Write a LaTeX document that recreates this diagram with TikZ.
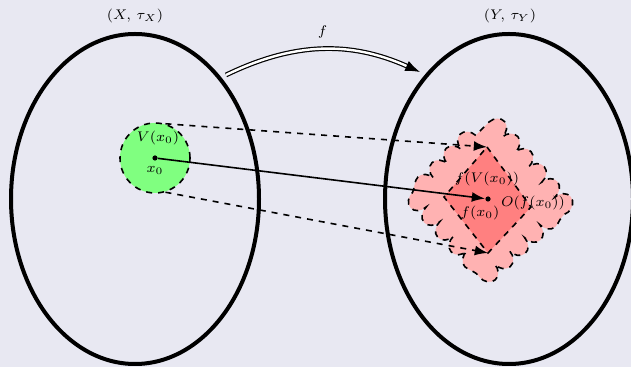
\documentclass[tikz,border=0pt]{standalone}
\usepackage{amsmath,amssymb,xcolor,tikz}
\usetikzlibrary{arrows.meta,shapes.geometric,decorations.pathmorphing}
\definecolor{bgcol}{RGB}{232,232,242}

\begin{document}
\begin{tikzpicture}[x=0.5pt,y=-0.5pt,font=\scriptsize,
  space/.style={draw,line width=2pt,ellipse,inner sep=0pt,minimum width=124pt,minimum height=165pt},
  nbhd/.style={draw,thick,dashed},
  dot/.style={circle,fill,inner sep=0pt,minimum size=2.6pt}]
\fill[bgcol] (0,0) rectangle (631,367);
\useasboundingbox (0,0) rectangle (631,367);
\node[space] (X) at (135,199) {};
\node[space] (Y) at (509,199) {};
\node (Xlab) at (135,16) {$(X,\,\tau_X)$};
\node (Ylab) at (510,16) {$(Y,\,\tau_Y)$};
\coordinate (cT) at (489,122);\coordinate (cR) at (562,205);
\coordinate (cB) at (486,272);\coordinate (cL) at (416,196);
\filldraw[nbhd,fill=red!30,decorate,decoration={bumps,segment length=20pt,amplitude=6pt}] (cT)--(cR)--(cB)--(cL)--cycle;
\coordinate (dT) at (487,147);\coordinate (dR) at (531,207);
\coordinate (dB) at (488,253);\coordinate (dL) at (444,197);
\filldraw[nbhd,fill=red!50] (dT)--(dR)--(dB)--(dL)--cycle;
\node[circle,nbhd,fill=green!50,inner sep=0pt,minimum size=35pt] (V) at (155,158) {};
\node[dot] (x0) at (155,158) {};
\node[dot] (fx0) at (488,199) {};
\node (Vlab) at (158,138) {$V(x_0)$};
\node (x0lab) at (155,170) {$x_0$};
\node (fVlab) at (487,179) {$f(V(x_0))$};
\node (fx0lab) at (480,213) {$f(x_0)$};
\node (Olab) at (533,203) {$O(f(x_0))$};
\draw[thick,-{Latex}] (x0)--(fx0);
\draw[thick,dashed,-{Latex}] (V.73)--(dT);
\draw[thick,dashed,-{Latex}] (V.-73)--(dB);
\coordinate (fs) at (226,75);\coordinate (fe) at (420,72);
\draw[double,line width=0.6pt,double distance=1.2pt,-{Latex}] (fs) to[bend left=25] node[above=2pt] (flab) {$f$} (fe);
\end{tikzpicture}
\end{document}
